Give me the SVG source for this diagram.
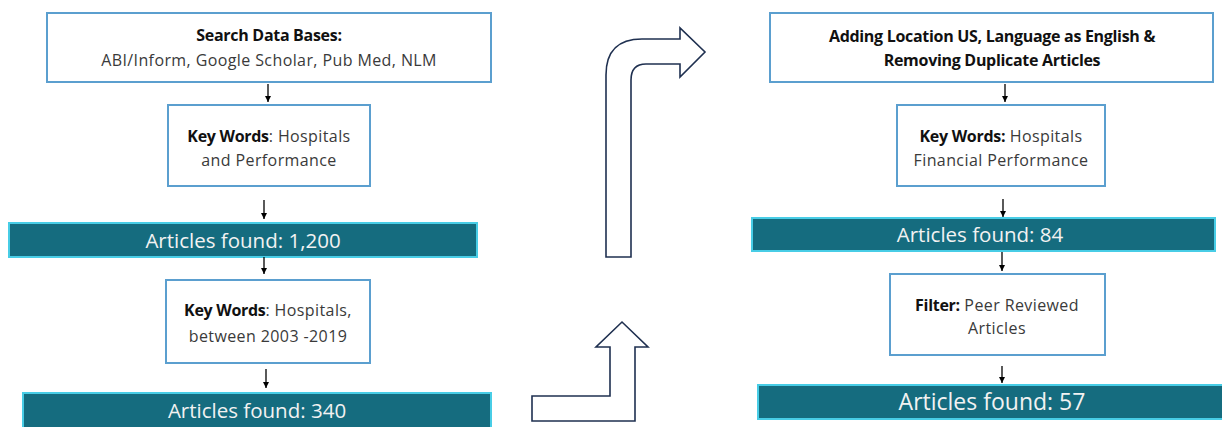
<svg xmlns="http://www.w3.org/2000/svg" width="1222" height="427" viewBox="0 0 1222 427">
<defs>
<style>
.box{fill:#fff;stroke:#5b9fcf;stroke-width:2}
.bar{fill:#156c7f;stroke:#48cde6;stroke-width:2}
.t{font-family:"Open Sans","Noto Sans",sans-serif;font-size:16px;letter-spacing:0.4px;fill:#3a3a3a;text-anchor:middle}
.b{font-weight:bold;fill:#111;letter-spacing:-0.3px}
.w{font-family:"Open Sans","Noto Sans",sans-serif;font-size:20.5px;fill:#f2f2f2;text-anchor:middle}
.con line{stroke:#000;stroke-width:1.3}
.big{fill:#fff;stroke:#1f3050;stroke-width:1.6;stroke-linejoin:miter}
</style>
<marker id="ah" viewBox="0 0 10 10" refX="10" refY="5" markerWidth="6" markerHeight="6" markerUnits="userSpaceOnUse" orient="auto"><path d="M0,0 L10,5 L0,10 Z" fill="#000"/></marker>
</defs>
<rect width="1222" height="427" fill="#fff"/>

<g id="n1"><rect class="box" x="47" y="13" width="444" height="69"/>
<text class="t b" x="269" y="41">Search Data Bases:</text>
<text class="t" x="269" y="66">ABI/Inform, Google Scholar, Pub Med, NLM</text></g>

<g id="n2"><rect class="box" x="168" y="105" width="202" height="81"/>
<text class="t" x="269" y="142"><tspan class="b">Key Words</tspan>: Hospitals</text>
<text class="t" x="269" y="166">and Performance</text></g>

<g id="n3"><rect class="bar" x="9" y="223" width="468" height="34"/>
<text class="w" x="243" y="248">Articles found: 1,200</text></g>

<g id="n4"><rect class="box" x="166" y="280" width="204" height="83"/>
<text class="t" x="268" y="316"><tspan class="b">Key Words</tspan>: Hospitals,</text>
<text class="t" x="268" y="342">between 2003 -2019</text></g>

<g id="n5"><rect class="bar" x="23" y="393" width="468" height="40"/>
<text class="w" x="257" y="418">Articles found: 340</text></g>

<g id="n6"><rect class="box" x="770" y="13" width="443" height="69"/>
<text class="t b" x="992" y="42">Adding Location US, Language as English &amp;</text>
<text class="t b" x="992" y="66">Removing Duplicate Articles</text></g>

<g id="n7"><rect class="box" x="897" y="105" width="208" height="81"/>
<text class="t" x="1001" y="142"><tspan class="b">Key Words:</tspan> Hospitals</text>
<text class="t" x="1001" y="166">Financial Performance</text></g>

<g id="n8"><rect class="bar" x="752" y="218" width="463" height="33"/>
<text class="w" x="980" y="242">Articles found: 84</text></g>

<g id="n9"><rect class="box" x="890" y="274" width="215" height="81"/>
<text class="t" x="997" y="311"><tspan class="b">Filter:</tspan> Peer Reviewed</text>
<text class="t" x="997" y="334">Articles</text></g>

<g id="n10"><rect class="bar" x="758" y="385" width="470" height="34"/>
<text class="w" x="992" y="410" style="font-size:23px">Articles found: 57</text></g>

<g id="arrows-big">
<path class="big" d="M606,257 L606,75 Q606,39 642,39 L680,39 L680,28 L705,52 L680,77 L680,64 L646,64 Q631,64 631,80 L631,257 Z"/>
<path class="big" d="M532,396 L610,396 L610,347 L596,347 L622,322 L648,347 L635,347 L635,421 L532,421 Z"/>
</g>

<g class="con" id="connectors">
<line x1="268" y1="84" x2="268" y2="102" marker-end="url(#ah)"/>
<line x1="264" y1="200" x2="264" y2="219" marker-end="url(#ah)"/>
<line x1="264" y1="257" x2="264" y2="274" marker-end="url(#ah)"/>
<line x1="266" y1="369" x2="266" y2="388" marker-end="url(#ah)"/>
<line x1="1005" y1="84" x2="1005" y2="102" marker-end="url(#ah)"/>
<line x1="1003" y1="199" x2="1003" y2="217" marker-end="url(#ah)"/>
<line x1="1002" y1="252" x2="1002" y2="271" marker-end="url(#ah)"/>
<line x1="1002" y1="366" x2="1002" y2="383" marker-end="url(#ah)"/>
</g>
</svg>
